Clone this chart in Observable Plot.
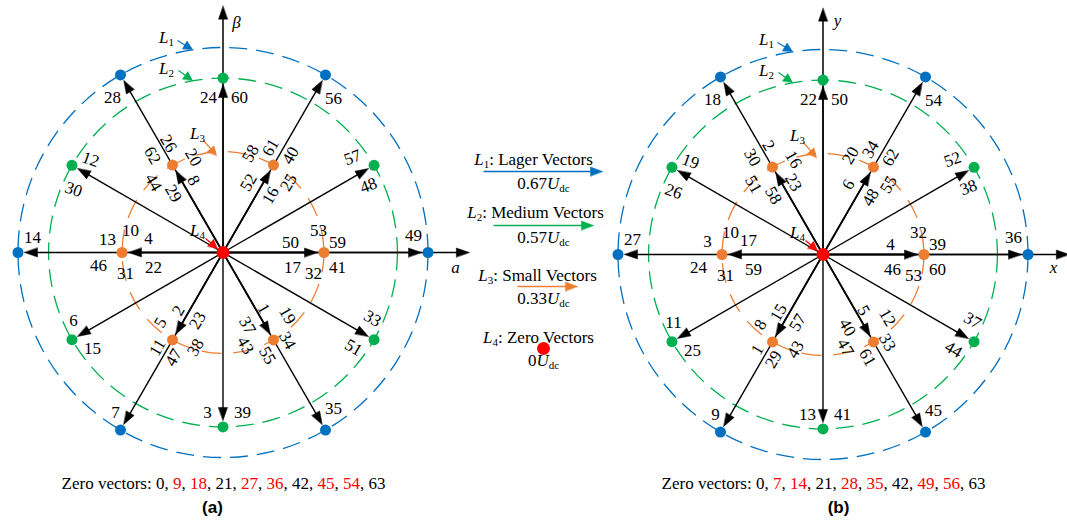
<!DOCTYPE html>
<html><head><meta charset="utf-8">
<script src="https://cdn.jsdelivr.net/npm/d3@7"></script>
<script src="https://cdn.jsdelivr.net/npm/@observablehq/plot@0.6"></script>
<style>body{margin:0;background:#fff} svg{display:block}</style>
</head><body><div id="chart"></div>
<script>
// ---------------- data ----------------
const largeMagnitude = 0.67;   // L1 (Udc)
const mediumMagnitude = 0.57;  // L2
const smallMagnitude = 0.33;   // L3
const zeroMagnitude = 0;       // L4
const largeAngles = [0, 60, 120, 180, 240, 300];
const mediumAngles = [30, 90, 150, 210, 270, 330];
const smallAngles = [0, 60, 120, 180, 240, 300];
const axisNamesA = ["a", "β"];
const axisNamesB = ["x", "y"];
const vectorLabelsA = ["28","24","60","56","12","30","26","62","20","8","44","29","58","61","40","52","16","25","57","48","13","10","4","46","31","22","14","50","53","59","17","32","41","49","6","15","2","23","5","11","47","38","1","19","37","34","43","55","33","51","7","3","39","35"];
const vectorLabelsB = ["18","22","50","54","19","26","2","30","16","23","51","58","20","34","62","6","48","55","52","38","3","10","17","24","31","59","27","4","32","39","46","53","60","36","11","25","15","57","8","1","29","43","5","12","40","33","47","61","37","44","9","13","41","45"];
const zeroVectorsA = [0, 9, 18, 21, 27, 36, 42, 45, 54, 63];
const redZeroA = [9, 18, 27, 36, 45, 54];
const zeroVectorsB = [0, 7, 14, 21, 28, 35, 42, 49, 56, 63];
const redZeroB = [7, 14, 28, 35, 49, 56];
const legendNames = ["Lager Vectors", "Medium Vectors", "Small Vectors", "Zero Vectors"];
const legendMagnitudes = ["0.67", "0.57", "0.33", "0"];
const panelNames = ["(a)", "(b)"];

// ---------------- layout ----------------
const S = 306;                 // px per Udc
const C0 = [222.5, 252];       // centre of panel (a) in px
const toX = px => (px - C0[0]) / S;
const toY = py => (C0[1] - py) / S;
const rad = d => d * Math.PI / 180;
const colors = {large: "#0070C0", medium: "#00B050", small: "#ED7D31", zero: "#FF0000", black: "#000000"};
const dotR = 5.5;

// label slots: [x px, y px, rotation] relative to panel (a)
const slots = [
 [112,97,0],[208,97,0],[239,97,0],[333,98,0],[90,159,20],[73,189,20],
 [168,143,60],[152,155,60],[193,157,60],[193,180,60],[153,182,60],[173,193,60],
 [250,153,-60],[270,147,-60],[290,155,-60],[248,182,-60],[270,195,-60],[288,182,-60],
 [352,157,-20],[368,185,-20],
 [107,239,0],[130,230,0],[148,238,0],[98,265,0],[125,273,0],[153,267,0],[32,237,0],
 [290,242,0],[318,230,0],[337,242,0],[292,267,0],[313,273,0],[337,267,0],[413,235,0],
 [73,320,0],[92,348,0],
 [178,310,-60],[197,320,-60],[160,322,-60],[157,347,-60],[173,357,-60],[195,347,-60],
 [263,308,60],[287,315,60],[247,325,60],[287,340,60],[245,345,60],[267,355,60],
 [372,318,30],[353,347,30],
 [115,412,0],[207,412,0],[242,412,0],[333,408,0]
];

const panelDefs = [
  {off: [0, 0], labels: vectorLabelsA, axes: axisNamesA, axesPos: [[455,267],[236,22]], zero: zeroVectorsA, red: redZeroA, name: panelNames[0], namePos: [212,507], zeroPos: [223,483]},
  {off: [600, 2], labels: vectorLabelsB, axes: axisNamesB, axesPos: [[453,265],[237,18]], zero: zeroVectorsB, red: redZeroB, name: panelNames[1], namePos: [238,505], zeroPos: [223,481]}
];

const ringsLM = [], ringsS = [], shafts = [], heads = [], dots = [], zeroDots = [], labels = [], rich = [], names = [];
let headId = 0;
function addArrow(x1, y1, x2, y2, color, len, half, width) {
  const dx = x2 - x1, dy = y2 - y1, n = Math.hypot(dx, dy), ux = dx / n, uy = dy / n;
  const L = len / S, W = half / S;
  const bx = x2 - L * ux, by = y2 - L * uy;
  shafts.push({x1, y1, x2: x2 - 0.6 * L * ux, y2: y2 - 0.6 * L * uy, color, width});
  const id = headId++;
  heads.push({id, color, x: x2, y: y2}, {id, color, x: bx - W * uy, y: by + W * ux}, {id, color, x: bx + W * uy, y: by - W * ux});
}
const sub = (n) => ({t: n, sub: 11});

for (const p of panelDefs) {
  const ox = p.off[0], oy = p.off[1];
  const cx = ox / S, cy = -oy / S;
  const pol = (r, a) => [cx + r * Math.cos(rad(a)), cy + r * Math.sin(rad(a))];
  ringsLM.push({x: cx, y: cy, r: largeMagnitude, color: colors.large});
  ringsLM.push({x: cx, y: cy, r: mediumMagnitude, color: colors.medium});
  ringsS.push({x: cx, y: cy, r: smallMagnitude, color: colors.small});
  // axes
  addArrow(cx, cy, cx + 0.805, cy, colors.black, 13, 4.5, 1.5);
  addArrow(cx, cy, cx, cy + 0.805, colors.black, 13, 4.5, 1.5);
  for (const a of largeAngles) { const [x, y] = pol(largeMagnitude - (dotR + 1) / S, a); addArrow(cx, cy, x, y, colors.black, 13, 4.5, 1.4); }
  for (const a of mediumAngles) { const [x, y] = pol(mediumMagnitude - (dotR + 1) / S, a); addArrow(cx, cy, x, y, colors.black, 13, 4.5, 1.4); }
  for (const a of smallAngles) { const [x, y] = pol(smallMagnitude - (dotR + 1) / S, a); addArrow(cx, cy, x, y, colors.black, 13, 4.5, 1.8); }
  for (const a of largeAngles) { const [x, y] = pol(largeMagnitude, a); dots.push({x, y, color: colors.large}); }
  for (const a of mediumAngles) { const [x, y] = pol(mediumMagnitude, a); dots.push({x, y, color: colors.medium}); }
  for (const a of smallAngles) { const [x, y] = pol(smallMagnitude, a); dots.push({x, y, color: colors.small}); }
  zeroDots.push({x: cx, y: cy + zeroMagnitude});
  // vector labels
  p.labels.forEach((t, i) => { const s = slots[i]; labels.push({x: toX(s[0] + ox), y: toY(s[1] + oy), t, rot: s[2], italic: false}); });
  p.axes.forEach((t, i) => labels.push({x: toX(p.axesPos[i][0] + ox), y: toY(p.axesPos[i][1] + oy), t, rot: 0, italic: true}));
  // L pointers
  const lp = [
    {pos: [166,37], a: [177,40,192,49], c: colors.large, n: "1"},
    {pos: [166,68], a: [178,70,192,80], c: colors.medium, n: "2"},
    {pos: [197,133], a: [203,140,216,155], c: colors.small, n: "3"},
    {pos: [197,230], a: [205,238,217,248], c: colors.zero, n: "4"}
  ];
  for (const l of lp) {
    rich.push({x: toX(l.pos[0] + ox), y: toY(l.pos[1] + oy), parts: [{t: "L", italic: true}, sub(l.n)]});
    addArrow(toX(l.a[0] + ox), toY(l.a[1] + oy), toX(l.a[2] + ox), toY(l.a[3] + oy), l.c, 9, 4.5, 1.2);
  }
  // zero vector line
  const parts = [{t: "Zero vectors: "}];
  p.zero.forEach((z, i) => { parts.push({t: String(z), fill: p.red.includes(z) ? colors.zero : null}); if (i < p.zero.length - 1) parts.push({t: ", "}); });
  rich.push({x: toX(p.zeroPos[0] + ox), y: toY(p.zeroPos[1] + oy), parts});
  names.push({x: toX(p.namePos[0] + ox), y: toY(p.namePos[1] + oy), t: p.name});
}

// middle legend
const legendColors = [colors.large, colors.medium, colors.small, colors.zero];
const legendTitlePos = [[533,159],[535,212],[537,275],[538,337]];
const legendValuePos = [[543,183],[543,237],[543,298],[543,360]];
const legendArrows = [[483,171,602,171],[493,225,593,225],[517,286,577,286]];
legendNames.forEach((nm, i) => {
  rich.push({x: toX(legendTitlePos[i][0]), y: toY(legendTitlePos[i][1]), parts: [{t: "L", italic: true}, sub(String(i + 1)), {t: ": " + nm}]});
  rich.push({x: toX(legendValuePos[i][0]), y: toY(legendValuePos[i][1]), parts: [{t: legendMagnitudes[i]}, {t: "U", italic: true}, sub("dc")]});
  if (i < 3) { const a = legendArrows[i]; addArrow(toX(a[0]), toY(a[1]), toX(a[2]), toY(a[3]), legendColors[i], 12, 4.5, 1.3); }
});
zeroDots.push({x: toX(543), y: toY(348)});
rich.forEach(r => r.key = "\u200B" + r.parts.map(p => p.t).join(""));

const headMarks = Object.values(colors).map(c =>
  Plot.line(heads.filter(h => h.color === c), {x: "x", y: "y", z: "id", fill: c, stroke: c, strokeWidth: 0.5, curve: "linear-closed"}));

const svg = Plot.plot({
  width: 1067, height: 523, margin: 0,
  x: {domain: [toX(0), toX(1067)], axis: null},
  y: {domain: [toY(523), toY(0)], axis: null},
  r: {type: "linear", domain: [0, 1], range: [0, S]},
  color: {type: "identity"},
  style: {fontFamily: "'Liberation Serif', serif", fontSize: "17px", background: "#fff", color: "#000"},
  marks: [
    Plot.dot(ringsLM, {x: "x", y: "y", r: "r", stroke: "color", fill: "none", strokeWidth: 1.3, strokeDasharray: "18,9"}),
    Plot.dot(ringsS, {x: "x", y: "y", r: "r", stroke: "color", fill: "none", strokeWidth: 1.3, strokeDasharray: "20,12"}),
    Plot.link(shafts, {x1: "x1", y1: "y1", x2: "x2", y2: "y2", stroke: "color", strokeWidth: "width"}),
    ...headMarks,
    Plot.dot(dots, {x: "x", y: "y", r: dotR, fill: "color", stroke: "none"}),
    Plot.dot(zeroDots, {x: "x", y: "y", r: 6.5, fill: colors.zero, stroke: "none"}),
    Plot.text(labels.filter(d => !d.italic), {x: "x", y: "y", text: "t", rotate: "rot", fontSize: 17, textAnchor: "middle", lineAnchor: "middle"}),
    Plot.text(labels.filter(d => d.italic), {x: "x", y: "y", text: "t", fontSize: 17, fontStyle: "italic", textAnchor: "middle", lineAnchor: "middle"}),
    Plot.text(rich, {x: "x", y: "y", text: "key", fontSize: 17, textAnchor: "middle", lineAnchor: "middle"}),
    Plot.text(names, {x: "x", y: "y", text: "t", fontSize: 17, fontWeight: "bold", fontFamily: "'Liberation Sans', Arial, sans-serif", textAnchor: "middle", lineAnchor: "middle"})
  ]
});

// turn rich-text keys into styled tspans
const used = new Set();
d3.select(svg).selectAll("text").each(function () {
  const content = this.textContent;
  if (!content.startsWith("\u200B")) return;
  const idx = rich.findIndex((r, j) => !used.has(j) && r.key === content);
  if (idx < 0) return;
  used.add(idx);
  const parts = rich[idx].parts;
  const t = d3.select(this);
  t.selectAll("*").remove();
  t.text(null);
  let shift = 0;
  for (const p of parts) {
    const ts = t.append("tspan").text(p.t);
    if (p.italic) ts.attr("font-style", "italic");
    if (p.fill) ts.attr("fill", p.fill);
    const want = p.sub ? 3 : 0;
    if (want !== shift) { ts.attr("dy", want - shift); shift = want; }
    if (p.sub) ts.attr("font-size", p.sub);
  }
});

document.getElementById("chart").appendChild(svg);
</script>
</body></html>
